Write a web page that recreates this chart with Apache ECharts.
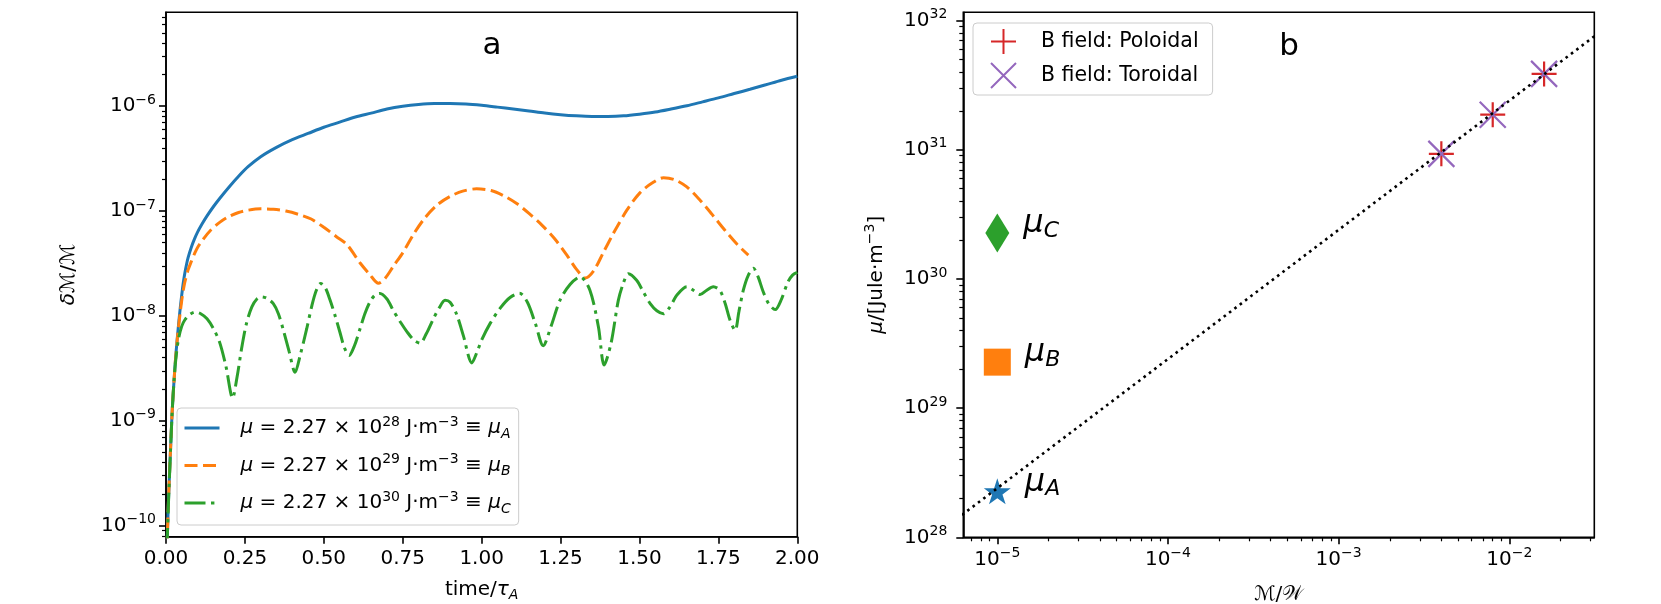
<!DOCTYPE html>
<html>
<head>
<meta charset="utf-8">
<script src="https://cdn.jsdelivr.net/npm/echarts@6/dist/echarts.min.js"></script>
<style>
  html, body { margin: 0; padding: 0; background: #fff; }
  #chart { width: 1661px; height: 604px; }
</style>
</head>
<body>
<div id="chart"></div>
<script>
// panel a: relative mass perturbation over time, one curve per mu
const timeA = [0.003, 0.008, 0.012, 0.016, 0.02, 0.025, 0.03, 0.035, 0.04, 0.045, 0.05, 0.055, 0.06, 0.065, 0.07, 0.08, 0.09, 0.1, 0.115, 0.13, 0.15, 0.17, 0.2, 0.23, 0.26, 0.3, 0.35, 0.4, 0.45, 0.5, 0.55, 0.6, 0.65, 0.7, 0.75, 0.8, 0.85, 0.9, 0.95, 1.0, 1.05, 1.1, 1.15, 1.2, 1.25, 1.3, 1.35, 1.4, 1.45, 1.5, 1.55, 1.6, 1.65, 1.7, 1.75, 1.8, 1.85, 1.9, 1.95, 2.0];
const deltaA = [6e-11, 1.8e-10, 3.6e-10, 7e-10, 1.3e-9, 2.3e-9, 3.8e-9, 5.8e-9, 8.4e-9, 1.18e-8, 1.6e-8, 2.1e-8, 2.6e-8, 3.1e-8, 3.6e-8, 4.5e-8, 5.4e-8, 6.3e-8, 7.6e-8, 9.0e-8, 1.1e-7, 1.32e-7, 1.7e-7, 2.15e-7, 2.65e-7, 3.3e-7, 4.05e-7, 4.8e-7, 5.5e-7, 6.3e-7, 7.05e-7, 7.9e-7, 8.6e-7, 9.4e-7, 1.0e-6, 1.04e-6, 1.06e-6, 1.06e-6, 1.05e-6, 1.02e-6, 9.8e-7, 9.4e-7, 9.0e-7, 8.6e-7, 8.3e-7, 8.1e-7, 8.0e-7, 8.0e-7, 8.1e-7, 8.4e-7, 8.8e-7, 9.4e-7, 1.01e-6, 1.1e-6, 1.2e-6, 1.32e-6, 1.45e-6, 1.6e-6, 1.77e-6, 1.93e-6];

const timeB = [0.003, 0.008, 0.012, 0.016, 0.02, 0.025, 0.03, 0.035, 0.04, 0.045, 0.05, 0.055, 0.06, 0.07, 0.08, 0.09, 0.1, 0.12, 0.14, 0.17, 0.2, 0.23, 0.26, 0.3, 0.34, 0.38, 0.42, 0.46, 0.5, 0.54, 0.573, 0.615, 0.645, 0.673, 0.695, 0.721, 0.75, 0.784, 0.82, 0.86, 0.9, 0.94, 0.984, 1.03, 1.07, 1.111, 1.15, 1.19, 1.23, 1.27, 1.3, 1.328, 1.355, 1.385, 1.417, 1.46, 1.502, 1.54, 1.576, 1.61, 1.65, 1.692, 1.73, 1.77, 1.81, 1.845];
const deltaB = [6e-11, 1.8e-10, 3.6e-10, 7e-10, 1.3e-9, 2.3e-9, 3.8e-9, 5.7e-9, 8.0e-9, 1.08e-8, 1.42e-8, 1.78e-8, 2.13e-8, 2.75e-8, 3.3e-8, 3.9e-8, 4.5e-8, 5.5e-8, 6.5e-8, 7.8e-8, 8.9e-8, 9.7e-8, 1.02e-7, 1.05e-7, 1.04e-7, 1.0e-7, 9.3e-8, 8.4e-8, 7.0e-8, 5.7e-8, 4.8e-8, 3.2e-8, 2.5e-8, 2.05e-8, 2.3e-8, 3.0e-8, 4.0e-8, 6.0e-8, 8.6e-8, 1.15e-7, 1.38e-7, 1.55e-7, 1.63e-7, 1.57e-7, 1.4e-7, 1.18e-7, 9.5e-8, 7.4e-8, 5.5e-8, 3.8e-8, 2.8e-8, 2.3e-8, 2.7e-8, 4.0e-8, 6.1e-8, 1.02e-7, 1.5e-7, 1.85e-7, 2.08e-7, 2.0e-7, 1.7e-7, 1.27e-7, 9.3e-8, 6.6e-8, 4.8e-8, 3.8e-8];

const timeC = [0.003, 0.008, 0.012, 0.016, 0.02, 0.025, 0.03, 0.039, 0.05, 0.06, 0.075, 0.092, 0.11, 0.13, 0.15, 0.17, 0.19, 0.211, 0.225, 0.24, 0.255, 0.272, 0.288, 0.303, 0.32, 0.34, 0.356, 0.372, 0.39, 0.409, 0.425, 0.446, 0.462, 0.476, 0.49, 0.505, 0.52, 0.536, 0.551, 0.565, 0.58, 0.597, 0.615, 0.63, 0.646, 0.662, 0.678, 0.7, 0.72, 0.742, 0.763, 0.785, 0.805, 0.825, 0.847, 0.866, 0.884, 0.9, 0.92, 0.942, 0.969, 0.985, 1.0, 1.027, 1.06, 1.09, 1.12, 1.145, 1.17, 1.195, 1.22, 1.248, 1.28, 1.312, 1.343, 1.37, 1.388, 1.41, 1.433, 1.45, 1.465, 1.491, 1.512, 1.534, 1.555, 1.576, 1.595, 1.62, 1.65, 1.672, 1.692, 1.712, 1.734, 1.755, 1.772, 1.787, 1.803, 1.815, 1.829, 1.845, 1.861, 1.875, 1.892, 1.91, 1.93, 1.95, 1.97, 1.985, 2.0];
const deltaC = [6e-11, 1.7e-10, 3.5e-10, 6.8e-10, 1.3e-9, 2.3e-9, 3.6e-9, 5.9e-9, 8.0e-9, 9.2e-9, 1.03e-8, 1.09e-8, 1.05e-8, 9.4e-9, 7.6e-9, 5.6e-9, 3.3e-9, 1.65e-9, 2.6e-9, 5.0e-9, 8.5e-9, 1.22e-8, 1.45e-8, 1.52e-8, 1.47e-8, 1.31e-8, 1.05e-8, 7.3e-9, 4.6e-9, 2.9e-9, 4.2e-9, 7.6e-9, 1.25e-8, 1.75e-8, 2.04e-8, 1.85e-8, 1.41e-8, 1.0e-8, 7.0e-9, 5.0e-9, 4.2e-9, 5.2e-9, 7.6e-9, 1.05e-8, 1.36e-8, 1.58e-8, 1.64e-8, 1.45e-8, 1.13e-8, 8.8e-9, 7.1e-9, 5.9e-9, 5.5e-9, 6.8e-9, 9.4e-9, 1.2e-8, 1.41e-8, 1.35e-8, 1.05e-8, 6.5e-9, 3.56e-9, 4.5e-9, 5.9e-9, 8.5e-9, 1.2e-8, 1.5e-8, 1.65e-8, 1.35e-8, 8.5e-9, 5.2e-9, 8.0e-9, 1.41e-8, 2.0e-8, 2.36e-8, 1.76e-8, 7.85e-9, 3.4e-9, 5.5e-9, 1.41e-8, 2.1e-8, 2.53e-8, 2.19e-8, 1.7e-8, 1.31e-8, 1.12e-8, 1.05e-8, 1.2e-8, 1.6e-8, 1.9e-8, 1.75e-8, 1.6e-8, 1.75e-8, 1.9e-8, 1.75e-8, 1.3e-8, 9.1e-9, 7.3e-9, 1.1e-8, 1.76e-8, 2.45e-8, 2.85e-8, 2.4e-8, 1.7e-8, 1.3e-8, 1.15e-8, 1.45e-8, 2.1e-8, 2.45e-8, 2.6e-8];

const legendExpA = [28, 29, 30];
const legendSubA = ['A', 'B', 'C'];

// panel b: mu against M/W
const muNames = ['A', 'B', 'C'];
const muX = [1e-5, 1e-5, 1e-5];
const muY = [2.27e28, 2.27e29, 2.27e30];
const fieldX = [4.0e-3, 8.0e-3, 1.6e-2];
const poloidalY = [9.3e30, 1.87e31, 3.87e31];
const toroidalY = [9.3e30, 1.87e31, 3.87e31];
const fitX = [5e-6, 4e-2];
const fitY = [1.2e28, 9.6e31];

// axis decades
const yDecA = [-10, -9, -8, -7, -6];
const xDecB = [-5, -4, -3, -2];
const yDecB = [28, 29, 30, 31, 32];

const FONT = 'DejaVu Sans';
const zip = (xs, ys) => xs.map((x, i) => [x, ys[i]]);
const decade = e => Number('1e' + e);

function minorTicks(lo, hi, min, max) {
  const out = [];
  for (let e = lo; e <= hi; e++) {
    for (let k = 2; k <= 9; k++) {
      const v = Number(k + 'e' + e);
      if (v >= min && v <= max) out.push(v);
    }
  }
  return out;
}

const supRich = {
  b: { fontSize: 20, lineHeight: 26, fontFamily: FONT, color: '#000' },
  s: { fontSize: 14, lineHeight: 14, verticalAlign: 'top', fontFamily: FONT, color: '#000' }
};
function sciLabel(v) {
  const e = Math.round(Math.log10(v));
  return '{b|10}{s|' + (e < 0 ? '\u2212' + (-e) : e) + '}';
}

function logAxes(gridIndex, position, min, max, decs, labelMargin, nameOpts) {
  const majors = decs.map(decade);
  const minors = minorTicks(decs[0] - 1, decs[decs.length - 1], min, max);
  const major = Object.assign({
    gridIndex, type: 'log', position, min, max,
    axisLine: { show: true, lineStyle: { color: '#000', width: 1.6 } },
    axisTick: { show: true, length: 7, customValues: majors, lineStyle: { color: '#000', width: 1.6 } },
    axisLabel: { show: true, customValues: majors, formatter: sciLabel, rich: supRich, margin: labelMargin, color: '#000' },
    splitLine: { show: false },
    minorTick: { show: false },
    nameMoveOverlap: false
  }, nameOpts);
  const minor = {
    gridIndex, type: 'log', position, min, max,
    axisLine: { show: false },
    axisTick: { show: true, length: 4, customValues: minors, lineStyle: { color: '#000', width: 1.2 } },
    axisLabel: { show: false },
    splitLine: { show: false }
  };
  return [major, minor];
}

const yMinA = 7.86e-11, yMaxA = 7.86e-6;
const xMinB = 6.32e-6, xMaxB = 3.15e-2;
const yMinB = 1e28, yMaxB = 1.16e32;

const nameStyle = {
  fontSize: 20, fontFamily: FONT, color: '#000', lineHeight: 26,
  rich: {
    i: { fontSize: 20, fontStyle: 'italic', lineHeight: 26, fontFamily: FONT },
    sub: { fontSize: 14, fontStyle: 'italic', lineHeight: 14, verticalAlign: 'bottom', fontFamily: FONT },
    sup: { fontSize: 14, lineHeight: 14, verticalAlign: 'top', fontFamily: FONT }
  }
};

const xAxisA = {
  gridIndex: 0, type: 'value', position: 'bottom', min: 0, max: 2, interval: 0.25,
  axisLine: { lineStyle: { color: '#000', width: 1.6 } },
  axisTick: { length: 7, lineStyle: { color: '#000', width: 1.6 } },
  axisLabel: { formatter: v => v.toFixed(2), fontSize: 20, lineHeight: 26, margin: 9, color: '#000', fontFamily: FONT },
  splitLine: { show: false },
  name: 'time/{i|\u03c4}{sub|A}', nameLocation: 'middle', nameGap: 40,
  nameTextStyle: nameStyle, nameMoveOverlap: false
};

const [yMajorA, yMinorA] = logAxes(0, 'left', yMinA, yMaxA, yDecA, 10, {
  name: '{i|\u03b4}\u2133/\u2133', nameLocation: 'middle', nameGap: 84, nameTextStyle: nameStyle
});
const [xMajorB, xMinorB] = logAxes(1, 'bottom', xMinB, xMaxB, xDecB, 9, {
  name: '\u2133/\ud835\udcb2', nameLocation: 'middle', nameGap: 44, nameTextStyle: nameStyle
});
const [yMajorB, yMinorB] = logAxes(1, 'left', yMinB, yMaxB, yDecB, 16, {
  name: '{i|\u03bc}/[Jule\u00b7m{sup|\u22123}]', nameLocation: 'middle', nameGap: 74, nameTextStyle: nameStyle
});

const starPath = 'path://M0,-1 L0.2245,-0.309 L0.951,-0.309 L0.363,0.118 L0.588,0.809 L0,0.382 L-0.588,0.809 L-0.363,0.118 L-0.951,-0.309 L-0.2245,-0.309 Z';
const plusPath = 'path://M1,0 L1,2 M0,1 L2,1';
const crossPath = 'path://M0,0 L2,2 M0,2 L2,0';
const muStyle = [
  { symbol: starPath, size: [27, 26], color: '#1f77b4' },
  { symbol: 'rect', size: [27, 27], color: '#ff7f0e' },
  { symbol: 'diamond', size: [24, 39], color: '#2ca02c' }
];

const colorsA = ['#1f77b4', '#ff7f0e', '#2ca02c'];
const dashA = ['solid', [13, 5.5], [21, 5.5, 3.4, 5.5]];
const seriesA = [zip(timeA, deltaA), zip(timeB, deltaB), zip(timeC, deltaC)].map((d, i) => ({
  name: legendSubA[i], type: 'line', xAxisIndex: 0, yAxisIndex: 0,
  data: d, symbol: 'none', smooth: 0.3, silent: true,
  lineStyle: { color: colorsA[i], width: 3, type: dashA[i] },
  itemStyle: { color: colorsA[i] }
}));

const chart = echarts.init(document.getElementById('chart'), null, { renderer: 'canvas' });
chart.setOption({
  animation: false,
  backgroundColor: '#fff',
  textStyle: { fontFamily: FONT, color: '#000' },
  grid: [
    { left: 166, right: 863.7, top: 12.3, bottom: 67.3, show: true, borderColor: '#000', borderWidth: 1.6, backgroundColor: 'transparent', outerBoundsMode: 'none' },
    { left: 963.3, right: 66.7, top: 12.3, bottom: 66.7, show: true, borderColor: '#000', borderWidth: 1.6, backgroundColor: 'transparent', outerBoundsMode: 'none' }
  ],
  xAxis: [xAxisA, xMajorB, xMinorB],
  yAxis: [yMajorA, yMinorA, yMajorB, yMinorB],
  legend: [
    {
      data: legendSubA, orient: 'vertical', left: 177, top: 408,
      padding: [7, 8, 9, 6], itemGap: 11.5, itemWidth: 35, itemHeight: 14,
      backgroundColor: 'rgba(255,255,255,0.85)', borderColor: '#cccccc', borderWidth: 1, borderRadius: 4,
      selectedMode: false,
      itemStyle: { opacity: 0, color: 'transparent', borderWidth: 0 },
      lineStyle: { width: 3 },
      formatter: name => {
        const i = legendSubA.indexOf(name);
        return '{gap| }{i|\u03bc} = 2.27 \u00d7 10{p|' + legendExpA[i] + '} J\u00b7m{p|\u22123} \u2261 {i|\u03bc}{sb|' + name + '}';
      },
      textStyle: {
        fontSize: 20, lineHeight: 26, color: '#000', fontFamily: FONT,
        rich: {
          gap: { width: 16 },
          i: { fontStyle: 'italic', fontSize: 20, lineHeight: 26, fontFamily: FONT },
          p: { fontSize: 14, lineHeight: 14, verticalAlign: 'top', fontFamily: FONT },
          sb: { fontSize: 14, fontStyle: 'italic', lineHeight: 14, verticalAlign: 'bottom', fontFamily: FONT }
        }
      }
    },
    {
      data: [
        { name: 'B field: Poloidal', icon: plusPath, itemStyle: { color: 'transparent', borderColor: '#d62728', borderWidth: 2, opacity: 1 } },
        { name: 'B field: Toroidal', icon: crossPath, itemStyle: { color: 'transparent', borderColor: '#9467bd', borderWidth: 2, opacity: 1 } }
      ],
      orient: 'vertical', left: 973, top: 23,
      padding: [5, 14, 6, 17], itemGap: 7, itemWidth: 25, itemHeight: 25,
      backgroundColor: 'rgba(255,255,255,0.85)', borderColor: '#cccccc', borderWidth: 1, borderRadius: 4,
      selectedMode: false,
      formatter: name => '{gap| }' + name,
      textStyle: { fontSize: 20.5, lineHeight: 25, color: '#000', fontFamily: FONT, rich: { gap: { width: 20 } } }
    }
  ],
  graphic: [
    { type: 'text', x: 492, y: 46, style: { text: 'a', fontSize: 31, fontFamily: FONT, fill: '#000', align: 'center', verticalAlign: 'middle' } },
    { type: 'text', x: 1289, y: 47, style: { text: 'b', fontSize: 31, fontFamily: FONT, fill: '#000', align: 'center', verticalAlign: 'middle' } }
  ],
  series: seriesA.concat([
    {
      name: 'fit', type: 'line', xAxisIndex: 1, yAxisIndex: 2, z: 4, silent: true,
      data: zip(fitX, fitY), symbol: 'none',
      lineStyle: { color: '#000', width: 2.6, type: [2.6, 4.1] }
    },
    {
      name: 'B field: Poloidal', type: 'scatter', xAxisIndex: 1, yAxisIndex: 2, z: 2, silent: true,
      data: zip(fieldX, poloidalY), symbol: plusPath, symbolSize: 25,
      itemStyle: { color: 'transparent', borderColor: '#d62728', borderWidth: 2.2, opacity: 1 }
    },
    {
      name: 'B field: Toroidal', type: 'scatter', xAxisIndex: 1, yAxisIndex: 2, z: 3, silent: true,
      data: zip(fieldX, toroidalY), symbol: crossPath, symbolSize: 26,
      itemStyle: { color: 'transparent', borderColor: '#9467bd', borderWidth: 2.2, opacity: 1 }
    },
    {
      name: 'mu', type: 'scatter', xAxisIndex: 1, yAxisIndex: 2, z: 2, silent: true,
      data: muNames.map((n, i) => ({
        value: [muX[i], muY[i]], name: n,
        symbol: muStyle[i].symbol, symbolSize: muStyle[i].size,
        itemStyle: { color: muStyle[i].color, opacity: 1 }
      })),
      label: {
        show: true, position: 'right', distance: 14, offset: [0, -9], color: '#000',
        formatter: p => '{m|\u03bc}{s|' + p.name + '}',
        rich: {
          m: { fontSize: 32, fontStyle: 'italic', lineHeight: 36, fontFamily: FONT, color: '#000' },
          s: { fontSize: 22, fontStyle: 'italic', lineHeight: 22, verticalAlign: 'bottom', fontFamily: FONT, color: '#000' }
        }
      }
    }
  ])
});
</script>
</body>
</html>
